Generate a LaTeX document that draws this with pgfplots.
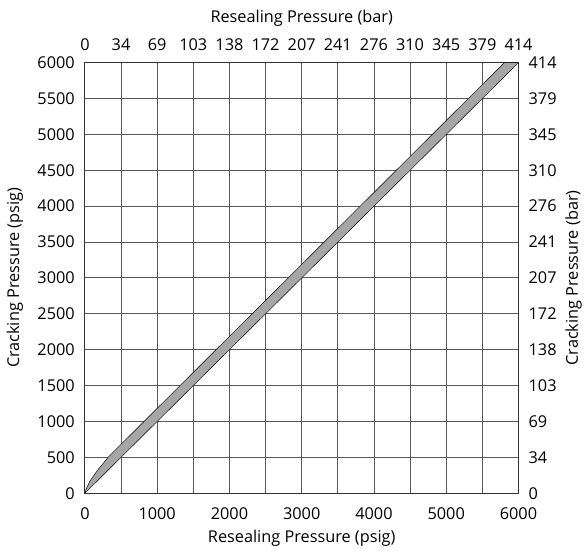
\documentclass[border=0pt]{standalone}
\usepackage{pgfplots}
\pgfplotsset{compat=1.18}
\usepackage{fontspec}
\setmainfont{Open Sans}
\begin{document}
\begin{tikzpicture}[font=\fontsize{16.3}{19}\selectfont]
\pgfplotsset{
  bothaxes/.style={
    width=434pt, height=431pt, scale only axis,
    xmin=0, xmax=6000, ymin=0, ymax=6000,
    xtick={0,500,...,6000}, ytick={0,500,...,6000},
    major tick length=0pt,
    /pgf/number format/assume math mode=true,
  }
}
\begin{axis}[bothaxes,
  axis line style={black!80, line width=0.9pt},
  grid=major, grid style={black!65, line width=0.9pt},
  xticklabels={0,,1000,,2000,,3000,,4000,,5000,,6000},
  yticklabels={0,500,1000,1500,2000,2500,3000,3500,4000,4500,5000,5500,6000},
  xticklabel style={anchor=center, yshift=-20.5pt},
  yticklabel style={anchor=east, inner sep=0pt, xshift=-10pt},
  xlabel={Resealing Pressure (psig)},
  xlabel style={at={(axis description cs:0.5,-0.1044)}, anchor=center},
  ylabel={Cracking Pressure (psig)},
  ylabel style={at={(axis description cs:-0.1613,0.5)}, anchor=center},
]
\addplot[fill=black!35, draw=black, line width=0.45pt, line join=round]
  coordinates {(0,0) (6000,6000) (5805,6000) (320,500) (160,300) (70,170) (20,65) (0,0)};
\end{axis}
\begin{axis}[bothaxes,
  axis x line*=top, axis y line*=right, axis line style={draw=none},
  xticklabels={0,34,69,103,138,172,207,241,276,310,345,379,414},
  yticklabels={0,34,69,103,138,172,207,241,276,310,345,379,414},
  xticklabel style={anchor=center, yshift=18pt},
  yticklabel style={anchor=west, inner sep=0pt, xshift=10pt},
  xlabel={Resealing Pressure (bar)},
  xlabel style={at={(axis description cs:0.5,1.102)}, anchor=center},
  ylabel={Cracking Pressure (bar)},
  ylabel style={at={(axis description cs:1.127,0.5)}, anchor=center},
]
\end{axis}
\path (current axis.south west) ++(-85pt,-59pt) rectangle ([xshift=66pt,yshift=62.7pt]current axis.north east);
\end{tikzpicture}
\end{document}
